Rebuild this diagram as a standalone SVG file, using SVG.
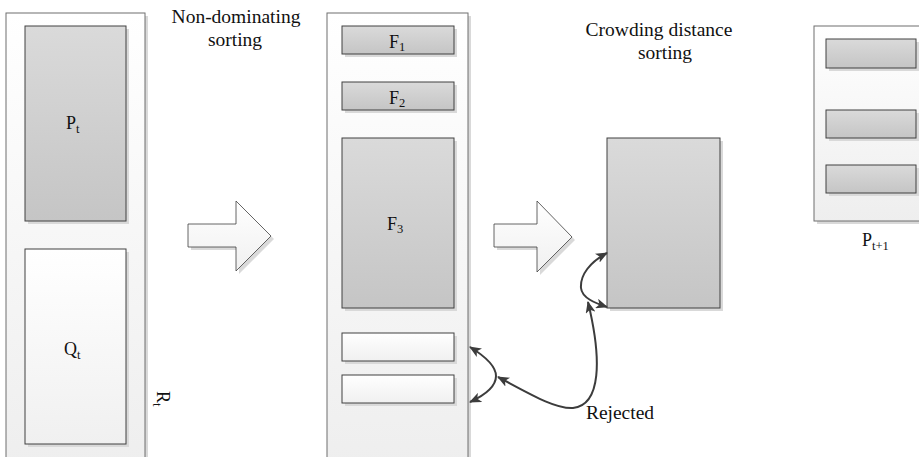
<svg xmlns="http://www.w3.org/2000/svg" width="919" height="457" viewBox="0 0 919 457">
<style>
  text { font-family: 'Liberation Serif', 'DejaVu Serif', serif; fill: #111; }
  .head { font-size: 19.5px; text-anchor: middle; }
  .lbl { font-size: 18px; }
  .sub { font-size: 12.5px; }
  .cont { fill: url(#gCont); stroke: #6f6f6f; stroke-width: 1; }
  .gray { fill: url(#gGray); stroke: #404040; stroke-width: 1; }
  .light { fill: url(#gLight); stroke: #404040; stroke-width: 1; }
  .shadow { fill: #d9d9d9; }
  .blk { fill: url(#gLight); stroke: #404040; stroke-width: 0.8; }
  .conn { fill: none; stroke: #3c3c3c; stroke-width: 2; }
</style>
<defs>
  <linearGradient id="gCont" x1="0" y1="0" x2="0" y2="1">
    <stop offset="0" stop-color="#ffffff"/>
    <stop offset="1" stop-color="#eeeeee"/>
  </linearGradient>
  <linearGradient id="gGray" x1="0" y1="0" x2="0" y2="1">
    <stop offset="0" stop-color="#dadada"/>
    <stop offset="1" stop-color="#c5c5c5"/>
  </linearGradient>
  <linearGradient id="gLight" x1="0" y1="0" x2="0" y2="1">
    <stop offset="0" stop-color="#ffffff"/>
    <stop offset="1" stop-color="#f0f0f0"/>
  </linearGradient>
  <marker id="ah" viewBox="0 0 12 10" refX="11" refY="5" markerWidth="12" markerHeight="10" markerUnits="userSpaceOnUse" orient="auto-start-reverse">
    <path d="M0,0 L12,5 L0,10 L3,5 z" fill="#3c3c3c"/>
  </marker>
</defs>

<g id="Rt">
  <rect class="shadow" x="9" y="16" width="139" height="460"/>
  <rect class="cont" x="6" y="13" width="139" height="460"/>
  <text class="lbl" font-family="Liberation Serif, serif" transform="translate(157,391) rotate(90)">R<tspan class="sub" dy="4">t</tspan></text>
</g>
<g id="Pt">
  <rect class="shadow" x="28" y="29" width="101" height="195"/>
  <rect class="gray" x="25" y="26" width="101" height="195"/>
  <text class="lbl" x="66" y="129">P<tspan class="sub" dy="4">t</tspan></text>
</g>
<g id="Qt">
  <rect class="shadow" x="28" y="252" width="101" height="195"/>
  <rect class="light" x="25" y="249" width="101" height="195"/>
  <text class="lbl" x="64" y="355">Q<tspan class="sub" dy="4">t</tspan></text>
</g>

<g id="label-nds">
  <text class="head" x="236" y="23">Non-dominating</text>
  <text class="head" x="235" y="46">sorting</text>
</g>

<g id="arrow1">
  <polygon class="shadow" points="191,227 239,227 239,204 274,239 239,274 239,250 191,250"/>
  <polygon class="blk" points="188,224 236,224 236,201 271,236 236,271 236,247 188,247"/>
</g>

<g id="Fronts">
  <rect class="shadow" x="330" y="16" width="141" height="460"/>
  <rect class="cont" x="327" y="13" width="141" height="460"/>
</g>
<g id="F1">
  <rect class="shadow" x="345" y="29" width="112" height="28"/>
  <rect class="gray" x="342" y="26" width="112" height="28"/>
  <text class="lbl" x="389" y="48">F<tspan class="sub" dy="3">1</tspan></text>
</g>
<g id="F2">
  <rect class="shadow" x="345" y="85" width="112" height="28"/>
  <rect class="gray" x="342" y="82" width="112" height="28"/>
  <text class="lbl" x="389" y="104">F<tspan class="sub" dy="3">2</tspan></text>
</g>
<g id="F3">
  <rect class="shadow" x="345" y="141" width="112" height="170"/>
  <rect class="gray" x="342" y="138" width="112" height="170"/>
  <text class="lbl" x="387" y="230">F<tspan class="sub" dy="3">3</tspan></text>
</g>
<g id="F4">
  <rect class="shadow" x="345" y="336" width="112" height="28"/>
  <rect class="light" x="342" y="333" width="112" height="28"/>
</g>
<g id="F5">
  <rect class="shadow" x="345" y="378" width="112" height="28"/>
  <rect class="light" x="342" y="375" width="112" height="28"/>
</g>

<g id="arrow2">
  <polygon class="shadow" points="497,227 540,227 540,204 575,240 540,275 540,250 497,250"/>
  <polygon class="blk" points="494,224 537,224 537,201 572,237 537,272 537,247 494,247"/>
</g>

<g id="label-cds">
  <text class="head" x="659" y="36">Crowding distance</text>
  <text class="head" x="665" y="59">sorting</text>
</g>

<g id="F3sorted">
  <rect class="shadow" x="610" y="141" width="113" height="170"/>
  <rect class="gray" x="607" y="138" width="113" height="170"/>
</g>

<g id="Pt1">
  <rect class="shadow" x="817" y="29" width="120" height="195"/>
  <rect class="cont" x="814" y="26" width="120" height="195"/>
  <rect class="shadow" x="829" y="42" width="90" height="29"/>
  <rect class="gray" x="826" y="39" width="90" height="29"/>
  <rect class="shadow" x="829" y="113" width="90" height="28"/>
  <rect class="gray" x="826" y="110" width="90" height="28"/>
  <rect class="shadow" x="829" y="168" width="90" height="28"/>
  <rect class="gray" x="826" y="165" width="90" height="28"/>
  <text class="lbl" x="862" y="246">P<tspan class="sub" dy="4">t+1</tspan></text>
</g>

<g id="label-rejected">
  <text class="head" x="620" y="419">Rejected</text>
</g>

<g id="connectors">
  <path class="conn" marker-start="url(#ah)" marker-end="url(#ah)" d="M470,347 C483,355 496,365 496,376 C496,387 483,396 470,402"/>
  <path class="conn" marker-start="url(#ah)" marker-end="url(#ah)" d="M498,377 C530,394 555,409 573,408 C601,405 602,360 588,302"/>
  <path class="conn" marker-start="url(#ah)" marker-end="url(#ah)" d="M607,253 C590,262 580,275 581,288 C582,298 595,303 607,307"/>
</g>
</svg>
